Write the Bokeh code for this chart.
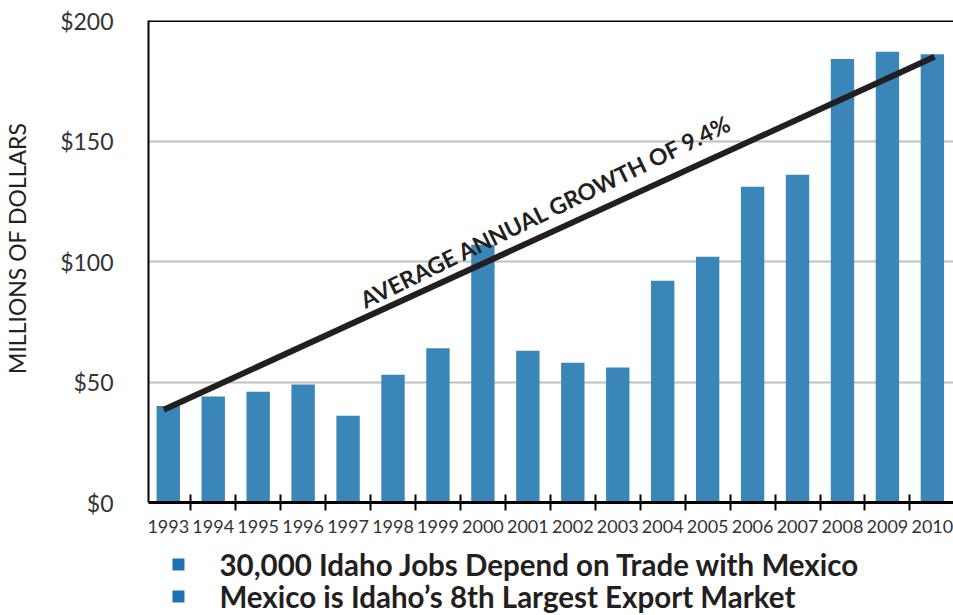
from bokeh.plotting import figure
from bokeh.layouts import column
from bokeh.models import (ColumnDataSource, FixedTicker, Span, Range1d, Title)
from bokeh.core.properties import value
from bokeh.embed import file_html
from bokeh.resources import INLINE
import math

years = [1993, 1994, 1995, 1996, 1997, 1998, 1999, 2000, 2001, 2002,
         2003, 2004, 2005, 2006, 2007, 2008, 2009, 2010]
exports = [40, 44, 46, 49, 36, 53, 64, 107, 63, 58,
           56, 92, 102, 131, 136, 184, 187, 186]
trend_x = [1992.9, 2010.05]
trend_y = [38.5, 185]
y_ticks = [0, 50, 100, 150, 200]
y_tick_labels = ["$0", "$50", "$100", "$150", "$200"]
trend_label = "AVERAGE ANNUAL GROWTH OF 9.4%"
y_title = "MILLIONS OF DOLLARS"
legend_labels = ["30,000 Idaho Jobs Depend on Trade with Mexico",
                 "Mexico is Idaho\u2019s 8th Largest Export Market"]

FONT = "Lato"
DARK = "#231f20"
W = 953
H1 = 540
H2 = 75

p = figure(width=W, height=H1, output_backend="svg", toolbar_location=None,
           x_range=Range1d(1992.56, 2010.47), y_range=Range1d(0, 200),
           min_border_left=146, min_border_top=20, min_border_right=0,
           min_border_bottom=38)
p.outline_line_color = None
p.background_fill_color = "white"

src = ColumnDataSource(dict(x=years, top=exports))
p.vbar(x="x", top="top", width=0.52, bottom=0, source=src,
       fill_color="#3a86b8", line_color=None)

p.line(trend_x, trend_y, line_width=6, line_color=DARK, line_cap="butt")

p.text(x=[2001.40], y=[121], text=[trend_label], angle=math.radians(26.0),
       text_font=value(FONT), text_font_style="bold", text_font_size="23px",
       text_color=DARK, text_align="center", text_baseline="middle")

p.add_layout(Span(location=200, dimension="width", line_color="black", line_width=3))

# axes
xa = p.xaxis[0]
xa.ticker = FixedTicker(ticks=years, minor_ticks=[y + 0.5 for y in years[:-1]])
xa.major_tick_line_color = None
xa.major_tick_out = 0
xa.major_tick_in = 0
xa.minor_tick_line_color = "black"
xa.minor_tick_line_width = 2
xa.minor_tick_in = 8
xa.minor_tick_out = 8
xa.axis_line_color = "black"
xa.axis_line_width = 3
xa.major_label_standoff = 9
xa.major_label_text_font = FONT
xa.major_label_text_font_size = "18px"
xa.major_label_text_color = "#333333"

ya = p.yaxis[0]
ya.ticker = FixedTicker(ticks=y_ticks)
ya.major_label_overrides = {t: l for t, l in zip(y_ticks, y_tick_labels)}
ya.major_tick_line_color = None
ya.minor_tick_line_color = None
ya.major_tick_out = 0
ya.major_tick_in = 0
ya.axis_line_color = "black"
ya.axis_line_width = 2
ya.major_label_standoff = 35
ya.major_label_text_font = FONT
ya.major_label_text_font_size = "23px"
ya.major_label_text_color = "#333333"

# blank spacer between tick labels and the vertical title
p.add_layout(Title(text=" ", standoff=24, text_font_size="1px"), "left")
p.add_layout(Title(text=y_title, align="right", offset=102, standoff=0,
                   text_font=FONT, text_font_style="normal",
                   text_font_size="23px", text_color=DARK), "left")

p.xgrid.grid_line_color = None
p.ygrid.ticker = FixedTicker(ticks=[50, 100, 150])
p.ygrid.grid_line_color = "#c0c0c0"
p.ygrid.grid_line_width = 2
p.ygrid.level = "underlay"

# bullet list below the chart (frame aligned with the chart frame: x 147..953)
p2 = figure(width=W, height=H2, output_backend="svg", toolbar_location=None,
            x_range=Range1d(147, 953), y_range=Range1d(0, H2),
            x_axis_location=None, y_axis_location=None,
            min_border=0, min_border_left=146, min_border_right=0,
            outline_line_color=None)
p2.grid.visible = False
bullet_x = [177, 177]
bullet_y = [H2 - 24, H2 - 56]
p2.scatter(bullet_x, bullet_y, marker="square", size=12,
           fill_color="#1f70b4", line_color=None)
p2.text(x=[218, 218], y=bullet_y, text=legend_labels,
        text_font=value(FONT), text_font_style="bold", text_font_size="29.5px",
        text_color=DARK, text_align="left", text_baseline="middle")

layout = column(p, p2, spacing=0)
open("out.html", "w").write(file_html(layout, INLINE))
